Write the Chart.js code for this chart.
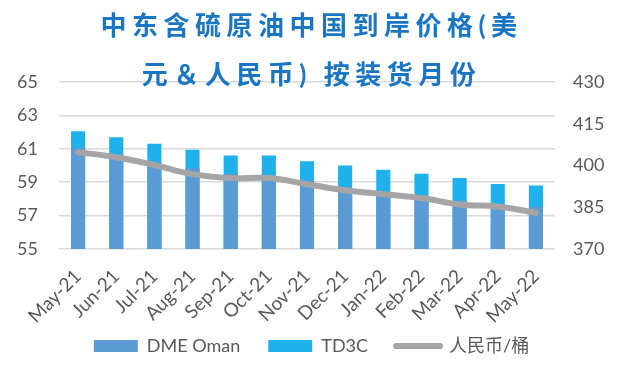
<!DOCTYPE html>
<html>
<head>
<meta charset="utf-8">
<script src="https://cdn.jsdelivr.net/npm/chart.js@4.4.1/dist/chart.umd.min.js"></script>
<style>
  html, body { margin: 0; padding: 0; background: #fff; }
  #wrap { width: 618px; height: 368px; }
</style>
</head>
<body>
<div id="wrap"><canvas id="chart"></canvas></div>
<script>
// ===== data =====
const months = ["May-21", "Jun-21", "Jul-21", "Aug-21", "Sep-21", "Oct-21", "Nov-21",
  "Dec-21", "Jan-22", "Feb-22", "Mar-22", "Apr-22", "May-22"];
const dmeOman = [61.05, 60.7, 60.2, 59.85, 59.5, 59.4, 59.1, 58.7, 58.4, 58.2, 57.9, 57.7, 57.55];
const td3c = [62.05, 61.7, 61.3, 60.95, 60.6, 60.6, 60.25, 60.0, 59.75, 59.5, 59.25, 58.9, 58.8];
const rmbPerBarrel = [404.8, 403, 400.2, 396.9, 395.5, 395.5, 393.3, 391.1, 389.7, 388.3, 386, 385.3, 383];
const titleLines = ["中东含硫原油中国到岸价格(美", "元＆人民币) 按装货月份"];

const textColor = "#595959";
const gridColor = "#D9D9D9";
const baseFont = "Lato, 'Noto Sans', sans-serif";

// wider letter spacing for the title only
const titleSpacing = {
  id: "titleSpacing",
  beforeDraw(chart) {
    const tb = chart.titleBlock;
    if (tb && !tb._spaced) {
      const draw = tb.draw.bind(tb);
      tb.draw = function (area) {
        chart.ctx.save();
        chart.ctx.letterSpacing = "5.5px";
        draw(area);
        chart.ctx.restore();
      };
      tb._spaced = true;
    }
  }
};

const ctx = document.getElementById("chart");

new Chart(ctx, {
  data: {
    labels: months,
    datasets: [
      {
        type: "bar",
        label: "DME Oman",
        data: dmeOman,
        backgroundColor: "#5B9BD5",
        yAxisID: "y",
        order: 1,
        grouped: false,
        barPercentage: 0.37,
        categoryPercentage: 1
      },
      {
        type: "bar",
        label: "TD3C",
        data: td3c,
        backgroundColor: "#1FB1EC",
        yAxisID: "y",
        order: 2,
        grouped: false,
        barPercentage: 0.37,
        categoryPercentage: 1
      },
      {
        type: "line",
        label: "人民币/桶",
        data: rmbPerBarrel,
        borderColor: "#A5A5A5",
        backgroundColor: "#A5A5A5",
        borderWidth: 6,
        borderCapStyle: "round",
        pointRadius: 0,
        tension: 0.4,
        yAxisID: "y1",
        order: 0
      }
    ]
  },
  options: {
    responsive: true,
    maintainAspectRatio: false,
    animation: false,
    layout: { padding: { left: 18, right: 13, top: 0, bottom: 3 } },
    plugins: {
      title: {
        display: true,
        text: titleLines,
        color: "#1A76C2",
        font: { family: "Lato, 'Noto Sans CJK SC'", size: 26, weight: "bold", lineHeight: 1.87 },
        padding: { top: 2.2, bottom: -17.4 }
      },
      tooltip: { enabled: false },
      legend: {
        position: "bottom",
        labels: {
          color: textColor,
          font: { family: "Lato, 'Noto Sans CJK SC', sans-serif", size: 18 },
          usePointStyle: true,
          pointStyleWidth: 44,
          boxHeight: 12,
          padding: 28,
          generateLabels(chart) {
            const items = Chart.defaults.plugins.legend.labels.generateLabels(chart);
            items.forEach(it => {
              if (it.datasetIndex === 2) {
                it.pointStyle = "line";
                it.lineWidth = 6;
                it.strokeStyle = "#A5A5A5";
                it.lineCap = "round";
              } else {
                it.pointStyle = "rect";
                it.lineWidth = 0;
              }
            });
            return items.sort((a, b) => a.datasetIndex - b.datasetIndex);
          }
        }
      }
    },
    scales: {
      x: {
        grid: { display: false },
        border: { display: false },
        ticks: {
          color: textColor,
          font: { family: baseFont, size: 19 },
          autoSkip: false,
          maxRotation: 45,
          minRotation: 45,
          padding: 8
        },
        afterFit(scale) {
          // keep rotated labels from widening the plot margins or being clipped
          scale.paddingLeft = 0;
          scale.paddingRight = 0;
          scale.height = 60;
          scale._computeLabelArea = () => undefined;
        }
      },
      y: {
        position: "left",
        min: 55,
        max: 65,
        border: { display: false },
        grid: { color: gridColor, lineWidth: 1.5, drawTicks: false },
        ticks: {
          stepSize: 2,
          color: textColor,
          font: { family: baseFont, size: 18 },
          padding: 21
        },
        afterFit(scale) { scale.width = 41; }
      },
      y1: {
        position: "right",
        min: 370,
        max: 430,
        border: { display: false },
        grid: { drawOnChartArea: false, drawTicks: false },
        ticks: {
          stepSize: 15,
          color: textColor,
          font: { family: baseFont, size: 18 },
          padding: 18
        },
        afterFit(scale) { scale.width = 50; }
      }
    }
  },
  plugins: [titleSpacing]
});
</script>
</body>
</html>
